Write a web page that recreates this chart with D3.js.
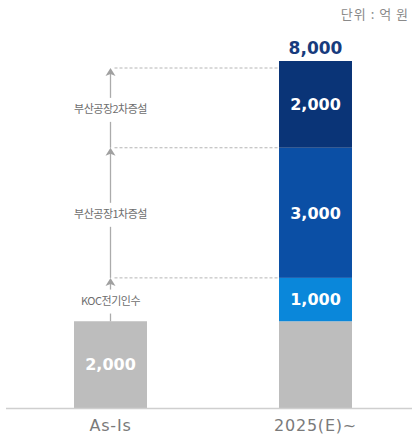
<!DOCTYPE html>
<html>
<head>
<meta charset="utf-8">
<script src="https://cdn.jsdelivr.net/npm/d3@7/dist/d3.min.js"></script>
<style>
  html, body { margin: 0; padding: 0; background: #fff; }
  svg { display: block; }
</style>
</head>
<body>
<svg id="chart" width="412" height="441"></svg>
<script>
// Sales capacity build-up (unit: 억 원)
const categories = ["As-Is", "2025(E)~"];
const baseValues = [2000, 2000];                       // existing capacity in each column
const stepNames = ["KOC전기인수", "부산공장1차증설", "부산공장2차증설"];
const stepValues = [1000, 3000, 2000];                 // additions stacked on the second column
const stepColors = ["#0a87da", "#0b4fa5", "#0a3477"];
const baseColor = "#bdbdbd";
const unitLabel = "단위 : 억 원";

const W = 412, H = 441;
const svg = d3.select("#chart");

const total = baseValues[1] + d3.sum(stepValues);

const x = d3.scaleBand().domain(categories).range([8, 418])
  .paddingInner(0.644).paddingOuter(0.322);
const y = d3.scaleLinear().domain([0, total]).range([408, 61]);

const numFmt = d3.format(",");
const valueFont = "'DejaVu Sans', sans-serif";
const krFont = "'Noto Sans CJK KR', 'Noto Sans', sans-serif";

// unit note
svg.append("text")
  .attr("x", 409).attr("y", 19)
  .attr("text-anchor", "end")
  .attr("font-family", krFont).attr("font-size", 13)
  .attr("letter-spacing", 1)
  .attr("fill", "#8a8a8a")
  .text(unitLabel);

// stacked segments for the second column
let acc = baseValues[1];
const segs = stepValues.map((v, i) => {
  const s = { name: stepNames[i], value: v, y0: acc, y1: acc + v, color: stepColors[i] };
  acc += v;
  return s;
});

// base bars
svg.selectAll("rect.base").data(categories).join("rect")
  .attr("class", "base")
  .attr("x", d => x(d)).attr("width", x.bandwidth())
  .attr("y", (d, i) => y(baseValues[i]))
  .attr("height", (d, i) => y(0) - y(baseValues[i]))
  .attr("fill", baseColor);

svg.selectAll("rect.seg").data(segs).join("rect")
  .attr("class", "seg")
  .attr("x", x(categories[1])).attr("width", x.bandwidth())
  .attr("y", d => y(d.y1))
  .attr("height", d => y(d.y0) - y(d.y1))
  .attr("fill", d => d.color);

// value labels inside bars
svg.append("text")
  .attr("x", x(categories[0]) + x.bandwidth() / 2)
  .attr("y", (y(0) + y(baseValues[0])) / 2)
  .attr("dy", "0.36em")
  .attr("text-anchor", "middle")
  .attr("font-family", valueFont).attr("font-weight", "bold").attr("font-size", 16)
  .attr("fill", "#fff")
  .text(numFmt(baseValues[0]));

svg.selectAll("text.segval").data(segs).join("text")
  .attr("class", "segval")
  .attr("x", x(categories[1]) + x.bandwidth() / 2)
  .attr("y", d => (y(d.y0) + y(d.y1)) / 2)
  .attr("dy", "0.36em")
  .attr("text-anchor", "middle")
  .attr("font-family", valueFont).attr("font-weight", "bold").attr("font-size", 16)
  .attr("fill", "#fff")
  .text(d => numFmt(d.value));

// total on top
svg.append("text")
  .attr("x", x(categories[1]) + x.bandwidth() / 2)
  .attr("y", y(total) - 7)
  .attr("text-anchor", "middle")
  .attr("font-family", valueFont).attr("font-weight", "bold").attr("font-size", 17)
  .attr("fill", "#173b7d")
  .text(numFmt(total));

// step arrows along the first column
const ax = x(categories[0]) + x.bandwidth() / 2;
const topInset = 7;
const stepTops = segs.map((s, i) => i === segs.length - 1 ? y(s.y1) + topInset : y(s.y1));
const stepBottoms = segs.map((s, i) => i === 0 ? y(baseValues[0]) : stepTops[i - 1]);

const g = svg.append("g");

// dashed guides to the second column
g.selectAll("line.guide").data(stepTops).join("line")
  .attr("class", "guide")
  .attr("x1", ax + 4).attr("x2", x(categories[1]))
  .attr("y1", d => d).attr("y2", d => d)
  .attr("stroke", "#b5b5b5").attr("stroke-width", 1)
  .attr("stroke-dasharray", "3,2");

// vertical shafts
g.selectAll("line.shaft").data(segs).join("line")
  .attr("class", "shaft")
  .attr("x1", ax).attr("x2", ax)
  .attr("y1", (d, i) => stepBottoms[i])
  .attr("y2", (d, i) => stepTops[i] + 4)
  .attr("stroke", "#ababab").attr("stroke-width", 1.3);

// arrow heads
g.selectAll("path.head").data(stepTops).join("path")
  .attr("class", "head")
  .attr("d", d => `M${ax},${d} L${ax + 5},${d + 8} L${ax},${d + 6} L${ax - 5},${d + 8} Z`)
  .attr("fill", "#a0a0a0");

// step names with a white gap behind them
const labels = g.selectAll("g.step").data(segs).join("g")
  .attr("class", "step")
  .attr("transform", (d, i) => `translate(${ax},${(stepBottoms[i] + stepTops[i]) / 2 + 1})`);

labels.append("rect")
  .attr("x", -60).attr("width", 120)
  .attr("y", -11).attr("height", 24)
  .attr("fill", "#fff");

labels.append("text")
  .attr("text-anchor", "middle")
  .attr("dy", "0.36em")
  .attr("font-family", krFont).attr("font-size", 11)
  .attr("letter-spacing", -0.5)
  .attr("fill", "#6e6e6e")
  .text(d => d.name);

// baseline
svg.append("line")
  .attr("x1", 6).attr("x2", 412)
  .attr("y1", y(0) + 0.5).attr("y2", y(0) + 0.5)
  .attr("stroke", "#cfcfcf").attr("stroke-width", 1.5);

// category axis labels
const xAxis = d3.axisBottom(x).tickSize(0).tickPadding(12);
const axG = svg.append("g").attr("transform", `translate(0,${y(0)})`).call(xAxis);
axG.select(".domain").remove();
axG.selectAll("text")
  .attr("font-family", valueFont).attr("font-size", 16)
  .attr("letter-spacing", 0.8)
  .attr("fill", "#7a7a7a");
</script>
</body>
</html>
